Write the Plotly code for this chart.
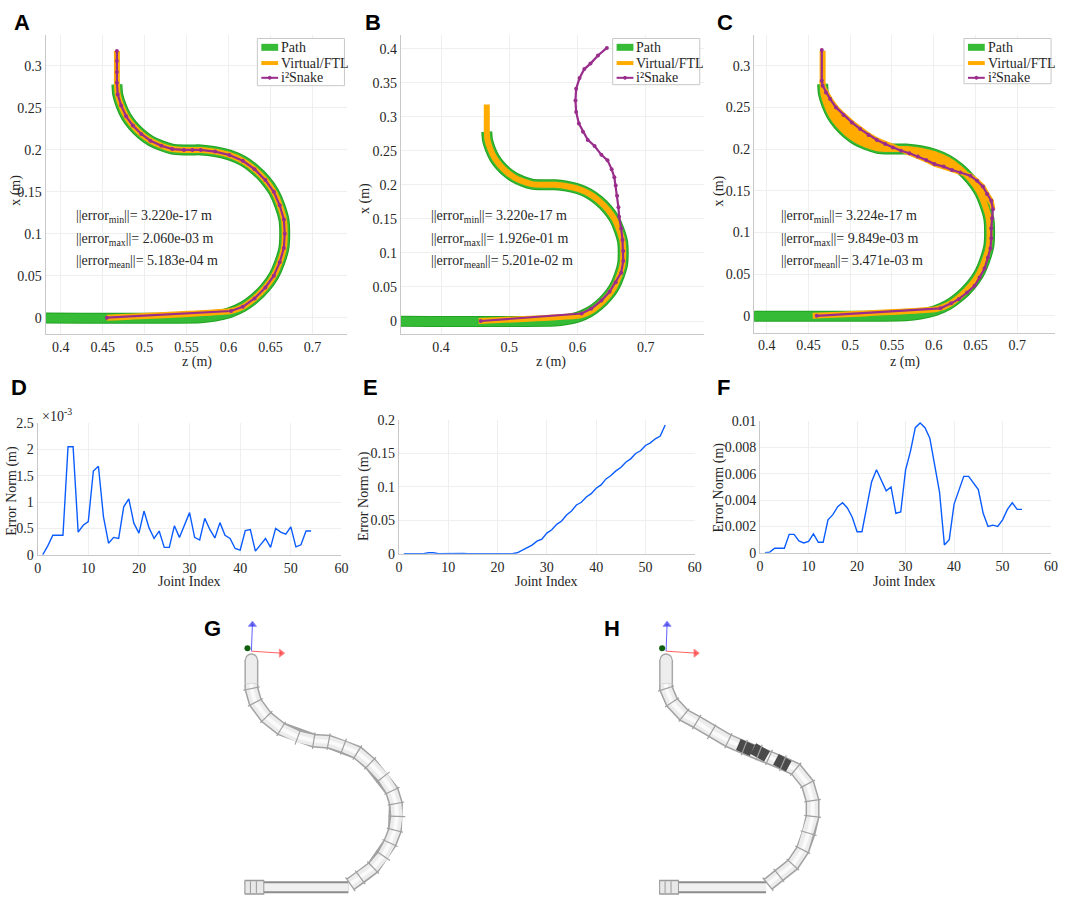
import math
import plotly.graph_objects as go

W, H = 1065, 907
OFF = 0  # page margin removed via post_script

# ---------------- data: path / virtual / snake (z, x in metres) ----------------
path_z = [0.300, 0.567, 0.584, 0.601, 0.617, 0.631, 0.644, 0.654, 0.661, 0.666, 0.667,
          0.666, 0.661, 0.654, 0.644, 0.631, 0.617, 0.601, 0.584, 0.567, 0.557, 0.547,
          0.533, 0.520, 0.507, 0.496, 0.486, 0.478, 0.472, 0.468, 0.467]
path_x = [0.000, 0.000, 0.002, 0.006, 0.013, 0.023, 0.036, 0.050, 0.066, 0.083, 0.100,
          0.117, 0.134, 0.150, 0.164, 0.177, 0.187, 0.194, 0.198, 0.200, 0.200, 0.200,
          0.201, 0.205, 0.211, 0.219, 0.229, 0.240, 0.253, 0.266, 0.278]

virt_z = [0.455, 0.603, 0.617, 0.631, 0.644, 0.654, 0.661, 0.666, 0.667,
          0.666, 0.661, 0.654, 0.644, 0.631, 0.617, 0.601, 0.584, 0.567, 0.557, 0.547,
          0.533, 0.520, 0.507, 0.496, 0.486, 0.478, 0.472, 0.468, 0.467, 0.467, 0.467, 0.467]
virt_x = [0.000, 0.008, 0.013, 0.023, 0.036, 0.050, 0.066, 0.083, 0.100,
          0.117, 0.134, 0.150, 0.164, 0.177, 0.187, 0.194, 0.198, 0.200, 0.200, 0.200,
          0.201, 0.205, 0.211, 0.219, 0.229, 0.240, 0.253, 0.266, 0.280, 0.293, 0.306, 0.318]

snakeA_z = virt_z
snakeA_x = virt_x

snakeB_z = [0.458, 0.606, 0.620, 0.635, 0.647, 0.656, 0.664, 0.667, 0.667, 0.666, 0.664,
            0.661, 0.660, 0.658, 0.656, 0.654, 0.650, 0.644, 0.635, 0.625, 0.615, 0.608,
            0.602, 0.598, 0.597, 0.598, 0.603, 0.610, 0.619, 0.630, 0.643]
snakeB_x = [0.000, 0.011, 0.018, 0.030, 0.043, 0.057, 0.071, 0.088, 0.103, 0.119, 0.136,
            0.153, 0.167, 0.184, 0.199, 0.211, 0.223, 0.236, 0.244, 0.257, 0.266, 0.278,
            0.290, 0.307, 0.324, 0.341, 0.357, 0.370, 0.378, 0.390, 0.401]

snakeC_z = [0.460, 0.608, 0.621, 0.630, 0.640, 0.649, 0.655, 0.661, 0.665, 0.668, 0.669,
            0.669, 0.670, 0.671, 0.669, 0.664, 0.659, 0.652, 0.644, 0.632, 0.622, 0.612,
            0.601, 0.591, 0.581, 0.571, 0.561, 0.551, 0.542, 0.532, 0.522, 0.512, 0.502,
            0.492, 0.483, 0.476, 0.471, 0.467, 0.466, 0.466]
snakeC_x = [0.000, 0.009, 0.015, 0.020, 0.028, 0.036, 0.046, 0.057, 0.070, 0.081, 0.093,
            0.105, 0.117, 0.128, 0.138, 0.146, 0.155, 0.162, 0.168, 0.172, 0.175, 0.179,
            0.182, 0.187, 0.191, 0.195, 0.198, 0.202, 0.206, 0.211, 0.217, 0.224, 0.232,
            0.241, 0.250, 0.260, 0.268, 0.276, 0.282, 0.319]

# ---------------- data: error norms ----------------
joint_idx = list(range(1, 55))
errD_e3 = [0.00, 0.17, 0.37, 0.37, 0.37, 2.05, 2.05, 0.43, 0.56, 0.63,
           1.59, 1.68, 0.72, 0.22, 0.33, 0.31, 0.91, 1.06, 0.60, 0.41,
           0.83, 0.51, 0.31, 0.45, 0.14, 0.14, 0.55, 0.33, 0.55, 0.80,
           0.33, 0.28, 0.69, 0.48, 0.32, 0.61, 0.37, 0.31, 0.12, 0.09,
           0.46, 0.48, 0.07, 0.20, 0.31, 0.14, 0.50, 0.43, 0.39, 0.53,
           0.15, 0.19, 0.45, 0.45]
errE = [0.000, 0.000, 0.0003, 0.0003, 0.0003, 0.0015, 0.0015, 0.0003, 0.0004, 0.0005,
        0.0012, 0.0012, 0.0005, 0.0002, 0.0002, 0.0002, 0.0006, 0.0007, 0.0004, 0.0003,
        0.0005, 0.0003, 0.0002, 0.0015, 0.005, 0.009, 0.013, 0.019, 0.022, 0.031,
        0.036, 0.044, 0.049, 0.058, 0.064, 0.073, 0.077, 0.085, 0.090, 0.098,
        0.103, 0.112, 0.117, 0.124, 0.129, 0.137, 0.142, 0.150, 0.154, 0.162,
        0.166, 0.172, 0.176, 0.1926]
errF = [0.0000, 0.00005, 0.00035, 0.00035, 0.00035, 0.0014, 0.0014, 0.0009, 0.00075, 0.00087,
        0.00144, 0.0008, 0.0008, 0.0025, 0.0029, 0.0035, 0.0038, 0.0034, 0.0027, 0.0016,
        0.0016, 0.0035, 0.0054, 0.0063, 0.0055, 0.0047, 0.0050, 0.0030, 0.0031, 0.0063,
        0.0077, 0.0095, 0.00985, 0.0095, 0.0087, 0.0067, 0.0046, 0.0006, 0.0010, 0.0037,
        0.0047, 0.0058, 0.0058, 0.0053, 0.0048, 0.0030, 0.0020, 0.0021, 0.0020, 0.0025,
        0.0033, 0.0038, 0.0033, 0.0033]

err_text = {
    "A": ["3.220e-17", "2.060e-03", "5.183e-04"],
    "B": ["3.220e-17", "1.926e-01", "5.201e-02"],
    "C": ["3.224e-17", "9.849e-03", "3.471e-03"],
}
legend_names = ["Path", "Virtual/FTL", "i²Snake"]

# ---------------- data: robot renders (reference image pixel coords) ----------------
robG_x = [250, 250, 254, 265, 280, 297, 313, 328, 343, 357, 370, 383, 392, 396, 397, 395, 390, 383, 373, 360, 350]
robG_y = [688, 693, 707, 722, 734, 742, 746, 747, 752, 758, 769, 783, 797, 810, 823, 837, 850, 863, 875, 885, 892]
robH_x = [669, 669, 675, 687, 700, 715, 732, 748, 763, 773, 787, 800, 812, 817, 817, 813, 807, 797, 783, 772]
robH_y = [688, 693, 707, 720, 727, 737, 746, 753, 758, 763, 769, 775, 790, 807, 823, 840, 857, 872, 883, 892]
darkH_x = [742, 756, None, 757, 771, None, 780, 793]
darkH_y = [750, 756, None, 754, 762, None, 765, 772]

GREEN = "#35bb35"
GREEN_EDGE = "#22a322"
ORANGE = "#ffab00"
PURPLE = "#992d8c"
BLUE = "#0a5cff"
SERIF = "Liberation Serif, Times New Roman, serif"
SANS = "Liberation Sans, Arial, sans-serif"
TXT = "#262626"

fig = go.Figure()

def fx(p):
    return (p - OFF) / W

def fy(p):
    return 1 - (p - OFF) / H

def dom_x(a, b):
    return [fx(a), fx(b)]

def dom_y(top, bot):
    return [fy(bot), fy(top)]

# ---------- path panels ----------
panels = [
    ("x", "y", snakeA_z, snakeA_x),
    ("x2", "y2", snakeB_z, snakeB_x),
    ("x3", "y3", snakeC_z, snakeC_x),
]
for i, (xa, ya, sz, sx) in enumerate(panels):
    fig.add_trace(go.Scatter(x=path_z, y=path_x, xaxis=xa, yaxis=ya, mode="lines",
                             line=dict(color=GREEN_EDGE, width=11, shape="spline", smoothing=0.6),
                             name="Path", showlegend=False))
    fig.add_trace(go.Scatter(x=path_z, y=path_x, xaxis=xa, yaxis=ya, mode="lines",
                             line=dict(color=GREEN, width=9, shape="spline", smoothing=0.6),
                             showlegend=False, hoverinfo="skip"))
    if i == 2:
        fz = snakeC_z[13:39] + virt_z[28:10:-1]
        fxx = snakeC_x[13:39] + virt_x[28:10:-1]
        fig.add_trace(go.Scatter(x=fz, y=fxx, xaxis=xa, yaxis=ya, mode="lines", fill="toself",
                                 fillcolor=ORANGE, line=dict(color=ORANGE, width=5),
                                 showlegend=False, hoverinfo="skip"))
    fig.add_trace(go.Scatter(x=virt_z, y=virt_x, xaxis=xa, yaxis=ya, mode="lines",
                             line=dict(color=ORANGE, width=6, shape="spline", smoothing=0.4),
                             name="Virtual/FTL", showlegend=False))
    fig.add_trace(go.Scatter(x=sz, y=sx, xaxis=xa, yaxis=ya, mode="lines+markers",
                             line=dict(color=PURPLE, width=2.2),
                             marker=dict(color=PURPLE, size=4), name="i²Snake", showlegend=False))

# ---------- error panels ----------
for xa, ya, yv in [("x4", "y4", errD_e3), ("x5", "y5", errE), ("x6", "y6", errF)]:
    fig.add_trace(go.Scatter(x=joint_idx, y=yv, xaxis=xa, yaxis=ya, mode="lines",
                             line=dict(color=BLUE, width=1.4), showlegend=False))

# ---------- robot renders ----------
def seg_angles(xs, ys):
    out = []
    n = len(xs)
    for k in range(n):
        a, b = max(k - 1, 0), min(k + 1, n - 1)
        out.append(math.degrees(math.atan2(ys[b] - ys[a], xs[b] - xs[a])))
    return out

for xa, ya, rx, ry in [("x7", "y7", robG_x, robG_y), ("x8", "y8", robH_x, robH_y)]:
    fig.add_trace(go.Scatter(x=rx, y=ry, xaxis=xa, yaxis=ya, mode="lines",
                             line=dict(color="#a2a2a2", width=14), showlegend=False))
    fig.add_trace(go.Scatter(x=rx, y=ry, xaxis=xa, yaxis=ya, mode="lines",
                             line=dict(color="#ececec", width=11), showlegend=False))
    fig.add_trace(go.Scatter(x=rx, y=ry, xaxis=xa, yaxis=ya, mode="lines",
                             line=dict(color="#fafafa", width=4), showlegend=False))
    # head capsule
    fig.add_trace(go.Scatter(x=[rx[0], rx[0]], y=[ry[0], ry[0] - 24], xaxis=xa, yaxis=ya,
                             mode="lines", line=dict(color="#a8a8a8", width=14), showlegend=False))
    fig.add_trace(go.Scatter(x=[rx[0]], y=[ry[0] - 24], xaxis=xa, yaxis=ya, mode="markers",
                             marker=dict(color="#ededed", size=12, line=dict(color="#a8a8a8", width=1.3)),
                             showlegend=False))
    fig.add_trace(go.Scatter(x=[rx[0], rx[0]], y=[ry[0], ry[0] - 24], xaxis=xa, yaxis=ya,
                             mode="lines", line=dict(color="#ededed", width=11), showlegend=False))
    # base rod
    bx0 = rx[-1] - 2
    bx1 = rx[0] - 7
    fig.add_trace(go.Scatter(x=[bx0, bx1], y=[895, 895], xaxis=xa, yaxis=ya, mode="lines",
                             line=dict(color="#8c8c8c", width=12), showlegend=False))
    fig.add_trace(go.Scatter(x=[bx0, bx1], y=[895, 895], xaxis=xa, yaxis=ya, mode="lines",
                             line=dict(color="#f0f0f0", width=8), showlegend=False))
    fig.add_trace(go.Scatter(x=[bx1, bx1 + 20], y=[895, 895], xaxis=xa, yaxis=ya, mode="lines",
                             line=dict(color="#9a9a9a", width=15), showlegend=False))
    fig.add_trace(go.Scatter(x=[bx1 + 1, bx1 + 19], y=[895, 895], xaxis=xa, yaxis=ya, mode="lines",
                             line=dict(color="#e8e8e8", width=12), showlegend=False))
    fig.add_trace(go.Scatter(x=[bx1 + 6, bx1 + 6, None, bx1 + 12, bx1 + 12],
                             y=[889, 901, None, 889, 901], xaxis=xa, yaxis=ya, mode="lines",
                             line=dict(color="#9a9a9a", width=1), showlegend=False))
    # coordinate frame
    ox, oy = rx[0], ry[0] - 33
    fig.add_trace(go.Scatter(x=[ox, ox + 30], y=[oy, oy + 2], xaxis=xa, yaxis=ya, mode="lines+markers",
                             line=dict(color="#ff6060", width=1),
                             marker=dict(symbol="triangle-right", size=[0, 7], color="#ff2020"),
                             showlegend=False))
    fig.add_trace(go.Scatter(x=[ox, ox + 1], y=[oy, oy - 27], xaxis=xa, yaxis=ya, mode="lines+markers",
                             line=dict(color="#6060ff", width=1),
                             marker=dict(symbol="triangle-up", size=[0, 7], color="#2020e0"),
                             showlegend=False))
    fig.add_trace(go.Scatter(x=[ox - 4], y=[oy - 3], xaxis=xa, yaxis=ya, mode="markers",
                             marker=dict(color="#106010", size=6), showlegend=False))

fig.add_trace(go.Scatter(x=darkH_x, y=darkH_y, xaxis="x8", yaxis="y8", mode="lines",
                         line=dict(color="#4a4a4a", width=12), showlegend=False))

# link separators
for xa, ya, rx, ry in [("x7", "y7", robG_x, robG_y), ("x8", "y8", robH_x, robH_y)]:
    fig.add_trace(go.Scatter(x=rx[1:], y=ry[1:], xaxis=xa, yaxis=ya, mode="markers",
                             marker=dict(symbol="line-ns", size=12, angle=seg_angles(rx, ry)[1:],
                                         color="#a0a0a0", line=dict(color="#a0a0a0", width=1.2)),
                             showlegend=False))

# ---------- axes ----------
common = dict(showline=True, linecolor="#c8c8c8", linewidth=1, showgrid=True,
              gridcolor="#efefef", gridwidth=1, zeroline=False, ticks="",
              tickfont=dict(family=SERIF, size=14, color=TXT))

def tk(vals, labels):
    return dict(tickmode="array", tickvals=vals, ticktext=labels)

zt7 = tk([0.4, 0.45, 0.5, 0.55, 0.6, 0.65, 0.7], ["0.4", "0.45", "0.5", "0.55", "0.6", "0.65", "0.7"])
zt4 = tk([0.4, 0.5, 0.6, 0.7], ["0.4", "0.5", "0.6", "0.7"])
yt3 = tk([0, 0.05, 0.1, 0.15, 0.2, 0.25, 0.3], ["0", "0.05", "0.1", "0.15", "0.2", "0.25", "0.3"])
yt4 = tk([0, 0.05, 0.1, 0.15, 0.2, 0.25, 0.3, 0.35, 0.4],
         ["0", "0.05", "0.1", "0.15", "0.2", "0.25", "0.3", "0.35", "0.4"])
jt = tk([0, 10, 20, 30, 40, 50, 60], ["0", "10", "20", "30", "40", "50", "60"])

fig.update_layout(
    xaxis=dict(domain=dom_x(42, 347), range=[0.382, 0.7417], anchor="y", **zt7, **common),
    yaxis=dict(domain=dom_y(28, 333), range=[-0.02, 0.3375], anchor="x", **yt3, **common),
    xaxis2=dict(domain=dom_x(401, 707), range=[0.341, 0.785], anchor="y2", **zt4, **common),
    yaxis2=dict(domain=dom_y(28, 333), range=[-0.0198, 0.4207], anchor="x2", **yt4, **common),
    xaxis3=dict(domain=dom_x(758, 1062), range=[0.385, 0.7454], anchor="y3", **zt7, **common),
    yaxis3=dict(domain=dom_y(28, 331), range=[-0.02, 0.3374], anchor="x3", **yt3, **common),
    xaxis4=dict(domain=dom_x(34, 341), range=[0, 60], anchor="y4", **jt, **common),
    yaxis4=dict(domain=dom_y(423, 557), range=[0, 2.5], anchor="x4",
                **tk([0, 0.5, 1, 1.5, 2, 2.5], ["0", "0.5", "1", "1.5", "2", "2.5"]), **common),
    xaxis5=dict(domain=dom_x(399, 698), range=[0, 60], anchor="y5", **jt, **common),
    yaxis5=dict(domain=dom_y(420, 556), range=[0, 0.2], anchor="x5",
                **tk([0, 0.05, 0.1, 0.15, 0.2], ["0", "0.05", "0.1", "0.15", "0.2"]), **common),
    xaxis6=dict(domain=dom_x(764, 1058), range=[0, 60], anchor="y6", **jt, **common),
    yaxis6=dict(domain=dom_y(421, 555), range=[0, 0.01], anchor="x6",
                **tk([0, 0.002, 0.004, 0.006, 0.008, 0.01],
                     ["0", "0.002", "0.004", "0.006", "0.008", "0.01"]), **common),
    xaxis7=dict(domain=dom_x(200, 460), range=[200, 460], anchor="y7", visible=False),
    yaxis7=dict(domain=dom_y(610, 907), range=[907, 610], anchor="x7", visible=False),
    xaxis8=dict(domain=dom_x(620, 880), range=[620, 880], anchor="y8", visible=False),
    yaxis8=dict(domain=dom_y(610, 907), range=[907, 610], anchor="x8", visible=False),
    width=W, height=H, margin=dict(l=0, r=0, t=0, b=0),
    paper_bgcolor="white", plot_bgcolor="white",
    font=dict(family=SERIF, size=14, color=TXT),
    showlegend=False,
)

ann = []
shapes = []
def add_text(x, y, text, size=14, family=SERIF, angle=0, xanchor="center", color=TXT):
    ann.append(dict(x=fx(x), y=fy(y), xref="paper", yref="paper", text=text, showarrow=False,
                    xanchor=xanchor, yanchor="middle", textangle=angle, borderpad=0,
                    font=dict(family=family, size=size, color=color)))

def pline(x0, y0, x1, y1, color, width):
    shapes.append(dict(type="line", xref="paper", yref="paper", x0=fx(x0), x1=fx(x1),
                       y0=fy(y0), y1=fy(y1), line=dict(color=color, width=width), layer="above"))

# custom legends (box + symbols + labels)
for bx, by, bw, bh in [(256, 32, 88, 48), (615, 32, 88, 47), (970, 32, 88, 46)]:
    shapes.append(dict(type="rect", xref="paper", yref="paper", x0=fx(bx), x1=fx(bx + bw),
                       y0=fy(by + bh), y1=fy(by), fillcolor="white",
                       line=dict(color="#c8c8c8", width=1), layer="above"))
    rows = [by + 9, by + 25, by + 40]
    pline(bx + 4, rows[0], bx + 21, rows[0], GREEN, 7)
    pline(bx + 4, rows[1], bx + 21, rows[1], ORANGE, 4)
    pline(bx + 4, rows[2], bx + 21, rows[2], PURPLE, 2)
    shapes.append(dict(type="circle", xref="paper", yref="paper", x0=fx(bx + 11), x1=fx(bx + 14),
                       y0=fy(rows[2] + 1.5), y1=fy(rows[2] - 1.5),
                       fillcolor=PURPLE, line=dict(color=PURPLE, width=1), layer="above"))
    for nm, ry in zip(legend_names, rows):
        add_text(bx + 23, ry, nm, size=14, xanchor="left")

# panel letters
for lbl, x, y in [("A", 9, 16), ("B", 364, 16), ("C", 719, 16), ("D", 6, 387), ("E", 362, 387),
                  ("F", 719, 387), ("G", 201, 632), ("H", 605, 632)]:
    add_text(x, y, "<b>%s</b>" % lbl, size=22, family=SANS, xanchor="left", color="black")

# error stats text
for key, x0 in [("A", 72), ("B", 430), ("C", 784)]:
    v = err_text[key]
    add_text(x0, 213, "||error<sub>min</sub>||= %s m" % v[0], xanchor="left")
    add_text(x0, 236, "||error<sub>max</sub>||= %s m" % v[1], xanchor="left")
    add_text(x0, 259, "||error<sub>mean</sub>||= %s m" % v[2], xanchor="left")

# axis titles
for x in [195, 553, 910]:
    add_text(x, 361, "z (m)")
for x, y in [(12, 186), (365, 195), (722, 187)]:
    add_text(x, y, "x (m)", angle=-90)
for x in [187, 548, 910]:
    add_text(x, 584, "Joint Index")
for x, y in [(8, 492), (364, 497), (722, 489)]:
    add_text(x, y, "Error Norm (m)", angle=-90)
add_text(37, 415, "×10<sup>-3</sup>", xanchor="left")

fig.update_layout(annotations=ann, shapes=shapes)
fig.write_html("out.html", config={"displayModeBar": False},
               post_script="document.body.style.margin='0';document.body.style.overflow='hidden';")
